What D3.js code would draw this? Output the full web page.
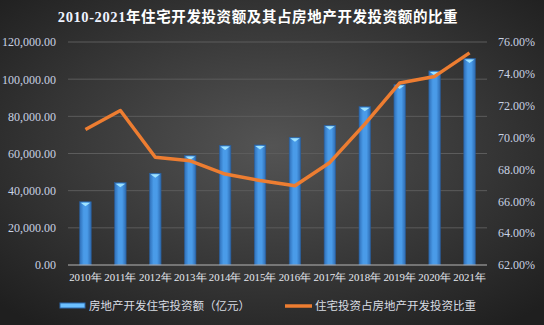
<!DOCTYPE html>
<html><head><meta charset="utf-8">
<script src="https://cdn.jsdelivr.net/npm/d3@7"></script>
<style>html,body{margin:0;padding:0;background:#2a2a2a;}svg{display:block;}
.serif text{font-family:"Liberation Serif","Times New Roman","DejaVu Serif",serif !important;}
</style>
</head><body>
<script>
const years = ["2010年","2011年","2012年","2013年","2014年","2015年","2016年","2017年","2018年","2019年","2020年","2021年"];
const investment = [34026,44308,49374,58951,64352,64595,68704,75148,85192,97071,104446,111173];
const share = [70.51,71.70,68.76,68.54,67.71,67.30,66.98,68.44,70.84,73.43,73.84,75.32];
const leftTicks = [0,20000,40000,60000,80000,100000,120000];
const rightTicks = [62,64,66,68,70,72,74,76];
const titleNum = "2010-2021";
const titleText = "年住宅开发投资额及其占房地产开发投资额的比重";
const legendNames = ["房地产开发住宅投资额（亿元）","住宅投资占房地产开发投资比重"];

const W=544,H=325, m={l:68,r:57,t:42,b:60};
const svg=d3.select("body").append("svg").attr("width",W).attr("height",H);
const defs=svg.append("defs");
const bg=defs.append("radialGradient").attr("id","bg").attr("cx","50%").attr("cy","45%").attr("r","70%");
bg.append("stop").attr("offset","0%").attr("stop-color","#545454");
bg.append("stop").attr("offset","100%").attr("stop-color","#1f1f1f");
const bar=defs.append("linearGradient").attr("id","bar").attr("x1","0").attr("x2","1");
bar.append("stop").attr("offset","0%").attr("stop-color","#2f6fb8");
bar.append("stop").attr("offset","35%").attr("stop-color","#4a9be8");
bar.append("stop").attr("offset","65%").attr("stop-color","#4a9be8");
bar.append("stop").attr("offset","100%").attr("stop-color","#2d6ab0");
svg.append("rect").attr("width",W).attr("height",H).attr("fill","url(#bg)");

const x=d3.scaleBand().domain(years).range([m.l,W-m.r]).paddingInner(0.67).paddingOuter(0.335);
const y=d3.scaleLinear().domain([0,120000]).range([H-m.b,m.t]);
const y2=d3.scaleLinear().domain([62,76]).range([H-m.b,m.t]);

// grid
svg.append("g").selectAll("line").data(leftTicks.slice(1)).join("line")
  .attr("x1",m.l).attr("x2",W-m.r).attr("y1",d=>y(d)).attr("y2",d=>y(d))
  .attr("stroke","#5c5c5c").attr("stroke-width",1);

const serif="Liberation Serif, Times New Roman, serif";
const tickColor="#c9d2e3";
// left axis
const la=svg.append("g").attr("class","serif").attr("transform",`translate(${m.l-12},0)`)
  .call(d3.axisLeft(y).tickValues(leftTicks).tickFormat(d3.format(",.2f")).tickSize(0).tickPadding(0))
  .attr("font-family",serif).attr("font-size",12);
la.select(".domain").remove();
la.selectAll("text").attr("fill",tickColor);
// right axis
const ra=svg.append("g").attr("class","serif").attr("transform",`translate(${W-m.r+11},0)`)
  .call(d3.axisRight(y2).tickValues(rightTicks).tickFormat(d=>d.toFixed(2)+"%").tickSize(0).tickPadding(0))
  .attr("font-family",serif).attr("font-size",12);
ra.select(".domain").remove();
ra.selectAll("text").attr("fill",tickColor);

// bars
const bw=x.bandwidth();
const g=svg.append("g");
g.selectAll("rect.b").data(investment).join("rect").attr("class","b")
  .attr("x",(d,i)=>x(years[i])).attr("y",d=>y(d)).attr("width",bw).attr("height",d=>y(0)-y(d))
  .attr("fill","url(#bar)").attr("stroke","#2a5d99").attr("stroke-width",0.6);
g.selectAll("path.cap").data(investment).join("path").attr("class","cap")
  .attr("d",(d,i)=>{const x0=x(years[i]),t=y(d);return `M${x0+1},${t+1}L${x0+bw-1},${t+1}L${x0+bw/2},${t+4.5}Z`;})
  .attr("fill","#9fe3ff");

// baseline
svg.append("line").attr("x1",m.l).attr("x2",W-m.r).attr("y1",y(0)).attr("y2",y(0))
  .attr("stroke","#b5b5b5").attr("stroke-width",1.2);

// x axis labels
const xa=svg.append("g").attr("class","serif").attr("transform",`translate(0,${y(0)+8})`)
  .call(d3.axisBottom(x).tickSize(0).tickPadding(0))
  .attr("font-family",serif).attr("font-size",10.8);
xa.select(".domain").remove();
xa.selectAll("text").attr("fill","#e6e9ef");

// line
const line=d3.line().x((d,i)=>x(years[i])+bw/2).y(d=>y2(d));
svg.append("path").datum(share).attr("d",line).attr("fill","none")
  .attr("stroke","#ed7d31").attr("stroke-width",3.5).attr("stroke-linejoin","round");

// title
const t=svg.append("text").attr("x",258).attr("y",22).attr("text-anchor","middle")
  .attr("fill","#ffffff").style("font-weight","bold").style("font-size","14.5px").style("letter-spacing","0.6px");
t.append("tspan").style("font-family","Liberation Serif, serif").attr("fill","#eef3ff").text(titleNum);
t.append("tspan").style("font-family","Noto Sans CJK SC, sans-serif").text(titleText);

// legend
const ly=306;
const lg=svg.append("g");
lg.append("rect").attr("x",60).attr("y",ly-3).attr("width",25).attr("height",5)
  .attr("fill","#6cc0ff").attr("stroke","#2d6ab0").attr("stroke-width",1);
lg.append("text").attr("x",89).attr("y",ly+4).text(legendNames[0]);
lg.append("line").attr("x1",285).attr("x2",312).attr("y1",ly).attr("y2",ly)
  .attr("stroke","#ed7d31").attr("stroke-width",3.5);
lg.append("text").attr("x",315).attr("y",ly+4).text(legendNames[1]);
lg.selectAll("text").attr("fill","#d9dde4").style("font-family","Noto Sans CJK SC, sans-serif").style("font-size","11.5px");
</script>
</body></html>
